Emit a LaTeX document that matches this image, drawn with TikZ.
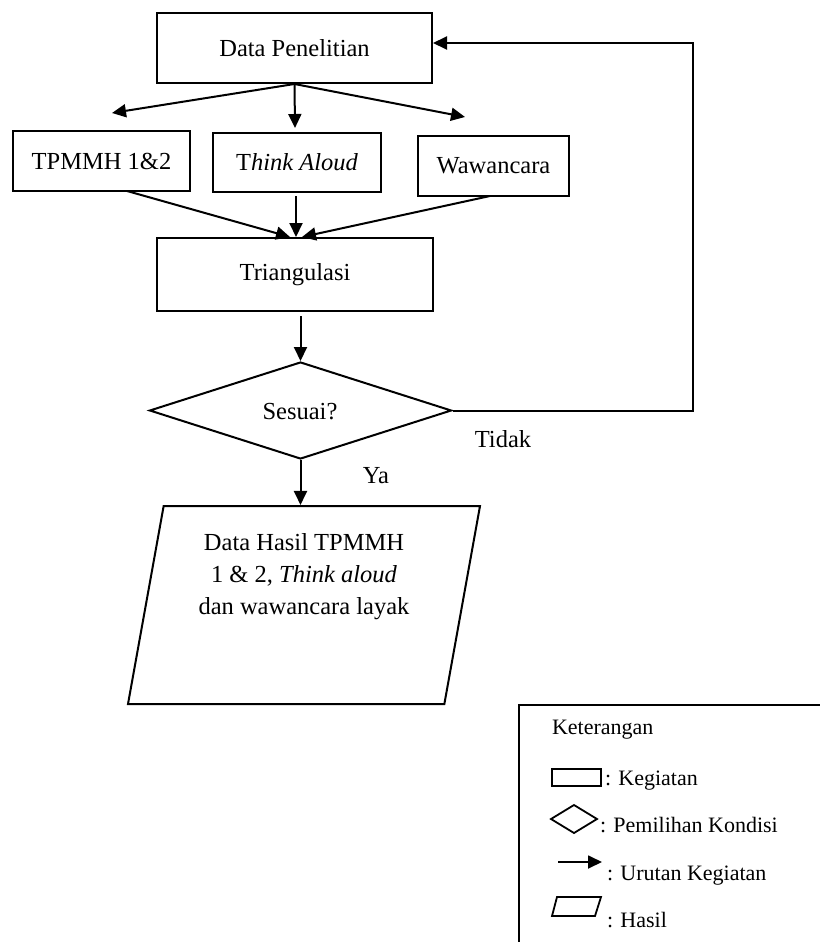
\documentclass[tikz,border=0pt]{standalone}
\usepackage{fontspec}
\setmainfont{Liberation Serif}
\usetikzlibrary{arrows.meta,shapes.geometric,calc}
\begin{document}
\begin{tikzpicture}[x=1pt,y=-1pt,
  line width=2pt,
  every node/.style={font=\fontsize{24.5}{32}\selectfont},
  arr/.style={-{Triangle[length=14pt,width=13pt]}},
  box/.style={draw,rectangle,inner sep=0pt},
  legtxt/.style={anchor=base west,inner sep=0pt,font=\fontsize{22}{26}\selectfont}]
\useasboundingbox (0,0) rectangle (819,942);

% activities
\node[box,minimum width=275,minimum height=70] (dp) at (294.5,48) {Data Penelitian};
\node[box,minimum width=177,minimum height=60] (tp) at (101.5,161) {TPMMH 1\&2};
\node[box,minimum width=168,minimum height=59] (ta) at (297,162) {T\textit{hink Aloud}};
\node[box,minimum width=151,minimum height=60] (ww) at (493.5,166) {Wawancara};
\node[box,minimum width=276,minimum height=73] (tri) at (295,274.5) {Triangulasi};

% decision
\node[draw,diamond,aspect=3.1,inner sep=0pt,minimum width=302,minimum height=97] (dia) at (300.5,410.5) {};
\node at (300,412) {Sesuai?};
\node[anchor=base] (tidak) at (503,447) {Tidak};
\node[anchor=base] (ya) at (376,483) {Ya};

% result
\node[draw,trapezium,trapezium left angle=76,trapezium right angle=104,trapezium stretches body,
      inner sep=0pt,minimum width=352,minimum height=198,align=center] (hasil) at (304,605)
  {Data Hasil TPMMH\\1 \& 2, \textit{Think aloud}\\dan wawancara layak\\[30pt]};

% connector ends
\coordinate (tpIn) at (112,113);
\coordinate (taIn) at (295,128);
\coordinate (wwIn) at (465,117);
\coordinate (triL) at (290,237);
\coordinate (triM) at (296,237);
\coordinate (triR) at (302,237);
\coordinate (tpOut) at (127,191);
\coordinate (taOut) at (296,196);
\coordinate (wwOut) at (490,196);
\coordinate (loop) at (693,43);

\draw[arr] (dp.south) -- (tpIn);
\draw[arr] (dp.south) -- (taIn);
\draw[arr] (dp.south) -- (wwIn);
\draw[arr] (tpOut) -- (triL);
\draw[arr] (taOut) -- (triM);
\draw[arr] (wwOut) -- (triR);
\draw[arr,shorten <=4pt] (tri.south -| dia.north) -- (dia.north);
\draw[arr] (dia.south) -- (dia.south |- hasil.north);
\draw[arr] (dia.east) -- (dia.east -| loop) -- (loop) -- (loop -| dp.east);

% legend
\draw (820,705) -- (519,705) -- (519,943);
\node[legtxt] (ket) at (551,734) {Keterangan};
\draw[line width=1.8pt] (552,769) rectangle (601,786);
\node[legtxt] (lk) at (604,785) {: Kegiatan};
\draw[line width=1.8pt] (551,819) -- (574,805) -- (597,819) -- (574,833) -- cycle;
\node[legtxt] (lp) at (599,832) {: Pemilihan Kondisi};
\coordinate (la1) at (558,862);
\coordinate (la2) at (602,862);
\draw[arr,line width=1.8pt] (la1) -- (la2);
\node[legtxt] (lu) at (606,880) {: Urutan Kegiatan};
\draw[line width=1.8pt] (557,897) -- (601,897) -- (595,916) -- (552,916) -- cycle;
\node[legtxt] (lh) at (606,927) {: Hasil};
\end{tikzpicture}
\end{document}
